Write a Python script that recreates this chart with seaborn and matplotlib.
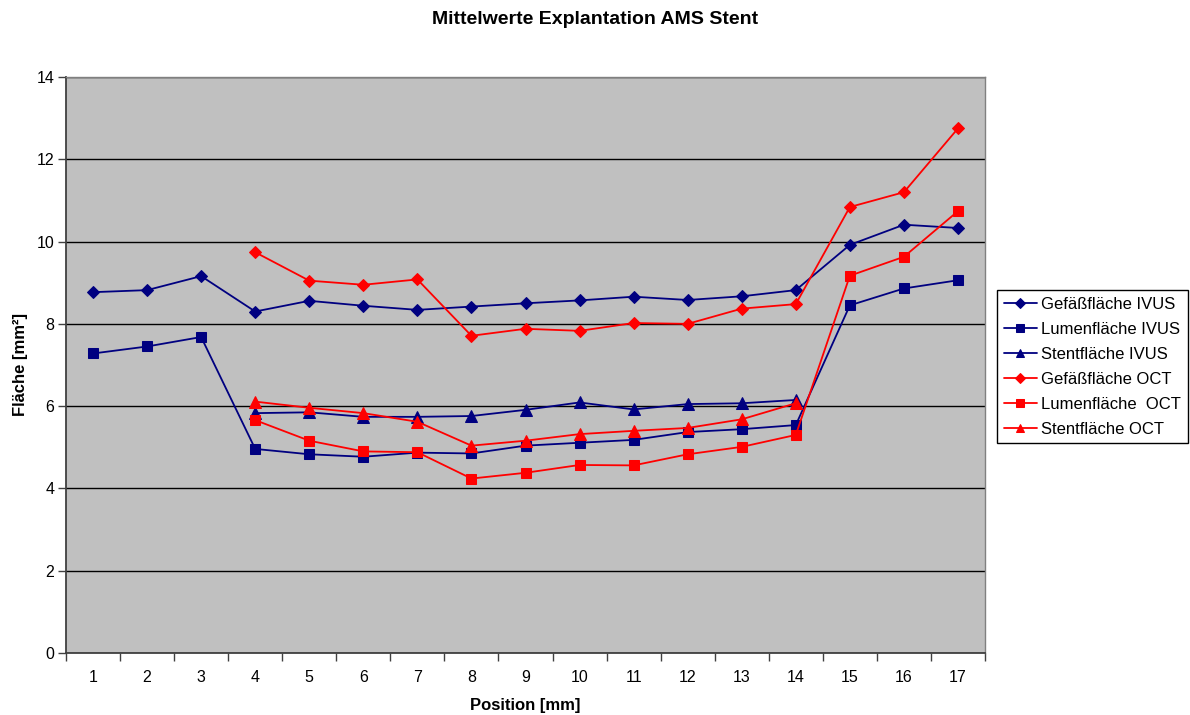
import numpy as np
import pandas as pd
import matplotlib
matplotlib.use("Agg")
import matplotlib.pyplot as plt
import seaborn as sns

positions = list(range(1, 18))
nan = np.nan

gefaess_ivus = [8.77, 8.82, 9.16, 8.30, 8.56, 8.44, 8.34, 8.42, 8.50, 8.57, 8.66,
                8.58, 8.67, 8.82, 9.92, 10.41, 10.33]
lumen_ivus = [7.28, 7.45, 7.68, 4.96, 4.83, 4.77, 4.87, 4.85, 5.04, 5.11, 5.18,
              5.37, 5.44, 5.54, 8.45, 8.86, 9.06]
stent_ivus = [nan, nan, nan, 5.83, 5.85, 5.74, 5.74, 5.76, 5.91, 6.09, 5.92,
              6.05, 6.07, 6.15, nan, nan, nan]
gefaess_oct = [nan, nan, nan, 9.74, 9.05, 8.95, 9.08, 7.71, 7.88, 7.83, 8.02,
               8.00, 8.37, 8.48, 10.84, 11.20, 12.75]
lumen_oct = [nan, nan, nan, 5.66, 5.16, 4.90, 4.88, 4.24, 4.38, 4.57, 4.56,
             4.83, 5.01, 5.30, 9.17, 9.63, 10.74]
stent_oct = [nan, nan, nan, 6.11, 5.96, 5.83, 5.62, 5.04, 5.16, 5.32, 5.40,
             5.47, 5.68, 6.07, nan, nan, nan]

series_names = ["Gefäßfläche IVUS", "Lumenfläche IVUS", "Stentfläche IVUS",
                "Gefäßfläche OCT", "Lumenfläche  OCT", "Stentfläche OCT"]
series_values = [gefaess_ivus, lumen_ivus, stent_ivus,
                 gefaess_oct, lumen_oct, stent_oct]
y_ticks = [0, 2, 4, 6, 8, 10, 12, 14]

sns.set_style("ticks")
plt.rcParams["font.family"] = ["Liberation Sans", "DejaVu Sans"]
plt.rcParams.update({"text.color": "black", "axes.labelcolor": "black",
                     "xtick.color": "black", "ytick.color": "black"})

navy = "#000080"
red = "#FF0000"
styles = [
    (navy, "D", 6.5),
    (navy, "s", 7.5),
    (navy, "^", 8),
    (red, "D", 6.5),
    (red, "s", 7.5),
    (red, "^", 8),
]

fig = plt.figure(figsize=(11.9, 7.15), dpi=100)
ax = fig.add_axes([66 / 1190, 62 / 715, 919 / 1190, 576 / 715])
ax.set_facecolor("#C0C0C0")

for name, vals, (col, mk, ms) in zip(series_names, series_values, styles):
    df = pd.DataFrame({"Position": positions, "Wert": vals}).dropna()
    sns.lineplot(data=df, x="Position", y="Wert", ax=ax, color=col,
                 marker=mk, markersize=ms, markeredgecolor=col,
                 linewidth=1.3, label=name, zorder=3)

ax.set_xlim(0.5, 17.5)
ax.set_ylim(0, 14)
ax.set_yticks(y_ticks)
ax.set_xticks(positions)
ax.set_xticks(np.arange(0.5, 18, 1), minor=True)
ax.tick_params(axis="x", which="major", length=0, labelsize=11.5, pad=12.5,
               labelcolor="black")
ax.tick_params(axis="x", which="minor", length=6, width=1, color="#404040")
ax.tick_params(axis="y", which="major", length=6, width=1, color="#404040",
               labelsize=11.5, pad=2.5, labelcolor="black")
ax.yaxis.grid(True, color="black", linewidth=1)
ax.set_axisbelow(True)

for side in ["left", "bottom"]:
    ax.spines[side].set_color("#404040")
    ax.spines[side].set_linewidth(1.3)
for side in ["top", "right"]:
    ax.spines[side].set_visible(True)
    ax.spines[side].set_color("#808080")
    ax.spines[side].set_linewidth(1)

ax.set_xlabel("Position [mm]", fontsize=12, fontweight="bold", labelpad=9)
ax.set_ylabel("Fläche [mm²]", fontsize=12, fontweight="bold", labelpad=6)
fig.text(0.5, 1 - 19 / 715, "Mittelwerte Explantation AMS Stent",
         ha="center", va="center", fontsize=14, fontweight="bold")

ax.get_legend().remove()
handles, labels = ax.get_legend_handles_labels()
leg = fig.legend(handles, labels, loc="upper left",
                 bbox_to_anchor=(997 / 1190, 1 - 290 / 715),
                 fontsize=12, frameon=True, fancybox=False,
                 edgecolor="black", framealpha=1, borderpad=0.4,
                 handlelength=2.0, handletextpad=0.25, labelspacing=0.6,
                 borderaxespad=0, numpoints=1)
leg.get_frame().set_linewidth(1)
for h in leg.legend_handles:
    h.set_markersize(h.get_markersize() * 0.8)

fig.savefig("out.png", dpi=100)
